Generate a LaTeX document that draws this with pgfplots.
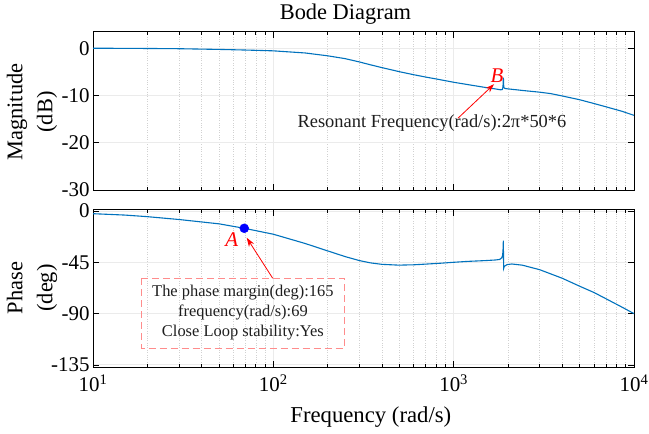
\documentclass[border=0pt]{standalone}
\usepackage{pgfplots}
\pgfplotsset{compat=1.18}
\usetikzlibrary{arrows.meta}
\usepackage{fontspec}
\setmainfont{Liberation Serif}
\definecolor{mblue}{RGB}{0,114,189}
\definecolor{boxred}{RGB}{255,140,140}
\definecolor{txt}{RGB}{30,30,30}
\begin{document}
\begin{tikzpicture}
\useasboundingbox (-93bp,-244bp) rectangle (556bp,190bp);
% ---------- magnitude ----------
\begin{axis}[scale only axis, width=541bp, xmode=log, xmin=10, xmax=10000,
    xtick={10,100,1000,10000},
    xmajorgrids, xminorgrids, ymajorgrids,
    major grid style={color=black!8, line width=0.9bp},
    minor grid style={color=black!18, dotted, line width=0.6bp},
    tick align=inside, major tick length=6bp, minor tick length=3.5bp,
    tick style={black, line width=0.8bp},
    axis line style={black, line width=1bp},
    ticklabel style={font=\fontsize{21}{21}\selectfont, text=black},
    clip=false,
  at={(0,0)}, height=158.3bp,
  ymin=-30, ymax=3.5, ytick={-30,-20,-10,0},
  yticklabels={-30,-10,-10,0}, yticklabels={-30,-20,-10,0}, xticklabels={}]
\addplot[mblue, line width=1.1bp] coordinates {
(10,0) (15,-0.02) (20,-0.05) (30,-0.1) (50,-0.25) (70,-0.38) (100,-0.55)
(150,-1.0) (200,-1.6) (250,-2.2) (300,-2.9) (345,-3.5) (400,-4.1) (505,-5.0)
(600,-5.6) (700,-6.1) (800,-6.5) (1000,-7.2) (1200,-7.7) (1500,-8.3) (1700,-8.6)
(1820,-8.8) (1860,-8.75) (1875,-8.3) (1882,-7.4) (1887,-6.2) (1892,-7.6) (1898,-8.3)
(1920,-8.5) (2000,-8.6) (2500,-9.0) (3000,-9.3) (3450,-9.6) (4000,-10.1)
(5000,-10.9) (6000,-11.7) (7000,-12.4) (8500,-13.3) (10000,-14.2)
};
\node[text=red, font=\fontsize{21}{21}\selectfont\itshape] at (axis cs:1742,-5.8) {B};
\draw[red, line width=0.8bp, -{Stealth[length=9bp,width=6bp]}] (axis cs:1057,-14.8) -- (axis cs:1675,-7.6);
\node[text=txt, font=\fontsize{18.5}{18.5}\selectfont] at (axis cs:758,-15.8) {Resonant Frequency(rad/s):2π*50*6};
\end{axis}
% ---------- phase ----------
\begin{axis}[scale only axis, width=541bp, xmode=log, xmin=10, xmax=10000,
    xtick={10,100,1000,10000},
    xmajorgrids, xminorgrids, ymajorgrids,
    major grid style={color=black!8, line width=0.9bp},
    minor grid style={color=black!18, dotted, line width=0.6bp},
    tick align=inside, major tick length=6bp, minor tick length=3.5bp,
    tick style={black, line width=0.8bp},
    axis line style={black, line width=1bp},
    ticklabel style={font=\fontsize{21}{21}\selectfont, text=black},
    xticklabel style={yshift=-4bp},
    clip=false,
  at={(0,-177bp)}, height=157.3bp,
  ymin=-136.8, ymax=1.1, ytick={-135,-90,-45,0},
  yticklabels={-135,-90,-45,0},
  xticklabels={10\textsuperscript{1},10\textsuperscript{2},10\textsuperscript{3},10\textsuperscript{4}}]
\addplot[mblue, line width=1.1bp] coordinates {
(10,-2.4) (15,-3.6) (20,-5) (30,-7.5) (50,-11.3) (69,-15.2) (100,-20.4)
(150,-28.5) (200,-35) (250,-40) (300,-43.5) (345,-45.5) (400,-46.8) (495,-47.5)
(600,-47.2) (700,-46.6) (850,-45.8) (1000,-45) (1200,-44.2) (1500,-43.5)
(1700,-43) (1800,-42.5) (1850,-41) (1870,-38.5) (1880,-33) (1886,-26)
(1890,-42) (1894,-50.3) (1910,-48.5) (1980,-47) (2100,-46.5) (2400,-47.5)
(3000,-51.5) (4000,-59) (5000,-66) (6000,-71.5) (7000,-77) (8500,-84) (10000,-90)
};
\addplot[only marks, mark=*, mark size=4.5bp, blue, mark options={fill=blue, draw=blue}] coordinates {(69,-15.2)};
\node[text=red, font=\fontsize{21}{21}\selectfont\itshape] at (axis cs:58.8,-24.8) {A};
\draw[red, line width=0.8bp, -{Stealth[length=9bp,width=6bp]}] (axis cs:99.2,-59) -- (axis cs:71.2,-23.5);
\draw[boxred, line width=0.9bp, dash pattern=on 7bp off 4bp] (axis cs:18.6,-59) rectangle (axis cs:246.6,-120.4);
\node[text=txt, align=center, font=\fontsize{16.5}{20}\selectfont] at (axis cs:67.8,-89.2)
  {The phase margin(deg):165\\frequency(rad/s):69\\Close Loop stability:Yes};
\end{axis}
% ---------- labels ----------
\node[font=\fontsize{22.5}{22.5}\selectfont, anchor=base] at (252.5bp,170.7bp) {Bode Diagram};
\node[font=\fontsize{22.5}{30}\selectfont, align=center, rotate=90] at (-61bp,78bp) {Magnitude\\(dB)};
\node[font=\fontsize{22.5}{30}\selectfont, align=center, rotate=90] at (-61bp,-98bp) {Phase\\(deg)};
\node[font=\fontsize{22.8}{22.8}\selectfont, anchor=base] at (277.8bp,-232bp) {Frequency (rad/s)};
\end{tikzpicture}
\end{document}
